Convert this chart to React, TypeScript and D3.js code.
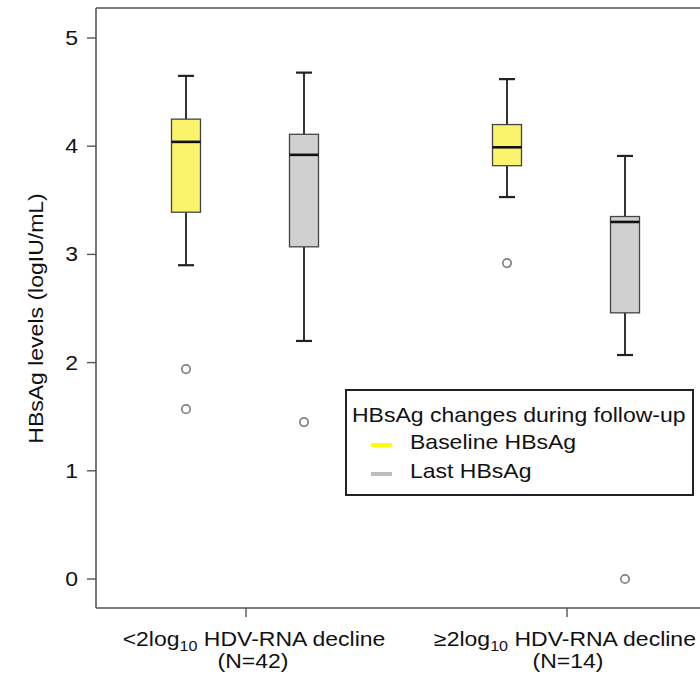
import React from "react";
import * as d3 from "d3";

const groups = ["lt2", "ge2"];
const groupPrefix = ["<2log", "≥2log"];
const groupN = ["(N=42)", "(N=14)"];
const seriesNames = ["Baseline HBsAg", "Last HBsAg"];
const seriesColors = ["#faf46c", "#d0d0d0"];
const legendColors = ["#ffff00", "#bdbdbd"];

// per group: [baseline, last]
const whiskerHigh = [[4.65, 4.68], [4.62, 3.91]];
const q3 = [[4.25, 4.11], [4.2, 3.35]];
const median = [[4.04, 3.92], [3.99, 3.3]];
const q1 = [[3.39, 3.07], [3.82, 2.46]];
const whiskerLow = [[2.9, 2.2], [3.53, 2.07]];
const outliers = [[[1.94, 1.57], [1.45]], [[2.92], [0.0]]];

const yTicks = [0, 1, 2, 3, 4, 5];

const SX = 1.15;
const FS = 20;

function T(props: { x: number; y: number; anchor?: string; rot?: number; size?: number; children: React.ReactNode }) {
  const { x, y, anchor = "start", rot = 0, size = FS, children } = props;
  return (
    <text
      transform={`translate(${x},${y}) rotate(${rot}) scale(${SX},1)`}
      textAnchor={anchor}
      fontSize={size}
      fill="#111"
    >
      {children}
    </text>
  );
}

export default function App() {
  const W = 700, H = 680;
  const left = 96, top = 8, bottom = 608;
  const y = d3.scaleLinear().domain([0, 5]).range([579, 38]);
  const x = d3.scalePoint<string>().domain(groups).range([246, 567]);
  const off = d3.scalePoint<string>().domain(seriesNames).range([-60, 58]);
  const boxW = 29, capW = 16;
  const font = "'Liberation Sans', Arial, Helvetica, sans-serif";

  return (
    <svg width={W} height={H} style={{ position: "absolute", left: 0, top: 0, background: "#fff" }} fontFamily={font}>
      {/* frame */}
      <line x1={left} x2={left} y1={top} y2={bottom} stroke="#555" strokeWidth={1.6} />
      <line x1={left} x2={W} y1={top} y2={top} stroke="#555" strokeWidth={1.6} />
      <line x1={left} x2={W} y1={bottom} y2={bottom} stroke="#555" strokeWidth={1.6} />
      {/* y ticks */}
      {yTicks.map((t) => (
        <g key={t}>
          <line x1={left - 9} x2={left} y1={y(t)} y2={y(t)} stroke="#555" strokeWidth={1.4} />
          <T x={left - 18} y={y(t) + 7} anchor="end">{t}</T>
        </g>
      ))}
      <T x={43} y={(y(0) + y(5)) / 2 + 10} rot={-90} anchor="middle">HBsAg levels (logIU/mL)</T>
      {/* x ticks and labels */}
      {groups.map((g, gi) => (
        <g key={g}>
          <line x1={x(g)!} x2={x(g)!} y1={bottom} y2={bottom + 9} stroke="#555" strokeWidth={1.4} />
          <T x={x(g)! + (gi === 0 ? 8 : -2)} y={646} anchor="middle">
            {groupPrefix[gi]}
            <tspan fontSize={14} dy={5}>10</tspan>
            <tspan dy={-5}> HDV-RNA decline</tspan>
          </T>
          <T x={x(g)! + (gi === 0 ? 7 : 1)} y={668} anchor="middle">{groupN[gi]}</T>
        </g>
      ))}
      {/* boxes */}
      {groups.map((g, gi) =>
        seriesNames.map((s, si) => {
          const cx = x(g)! + off(s)!;
          return (
            <g key={g + s}>
              <line x1={cx} x2={cx} y1={y(whiskerHigh[gi][si])} y2={y(q3[gi][si])} stroke="#333" strokeWidth={2} />
              <line x1={cx} x2={cx} y1={y(q1[gi][si])} y2={y(whiskerLow[gi][si])} stroke="#333" strokeWidth={2} />
              <line x1={cx - capW / 2} x2={cx + capW / 2} y1={y(whiskerHigh[gi][si])} y2={y(whiskerHigh[gi][si])} stroke="#222" strokeWidth={2.2} />
              <line x1={cx - capW / 2} x2={cx + capW / 2} y1={y(whiskerLow[gi][si])} y2={y(whiskerLow[gi][si])} stroke="#222" strokeWidth={2.2} />
              <rect x={cx - boxW / 2} y={y(q3[gi][si])} width={boxW} height={y(q1[gi][si]) - y(q3[gi][si])} fill={seriesColors[si]} stroke="#444" strokeWidth={1.3} />
              <line x1={cx - boxW / 2} x2={cx + boxW / 2} y1={y(median[gi][si])} y2={y(median[gi][si])} stroke="#111" strokeWidth={2.6} />
              {outliers[gi][si].map((o, oi) => (
                <circle key={oi} cx={cx} cy={y(o)} r={4.2} fill="none" stroke="#808080" strokeWidth={1.7} />
              ))}
            </g>
          );
        })
      )}
      {/* legend */}
      <g>
        <rect x={346} y={390} width={347} height={105} fill="#fff" stroke="#222" strokeWidth={2} />
        <T x={352} y={422}>HBsAg changes during follow-up</T>
        {seriesNames.map((s, si) => (
          <g key={s}>
            <line x1={371} x2={392} y1={445 + si * 29} y2={445 + si * 29} stroke={legendColors[si]} strokeWidth={4} />
            <T x={410} y={449 + si * 29}>{s}</T>
          </g>
        ))}
      </g>
    </svg>
  );
}
